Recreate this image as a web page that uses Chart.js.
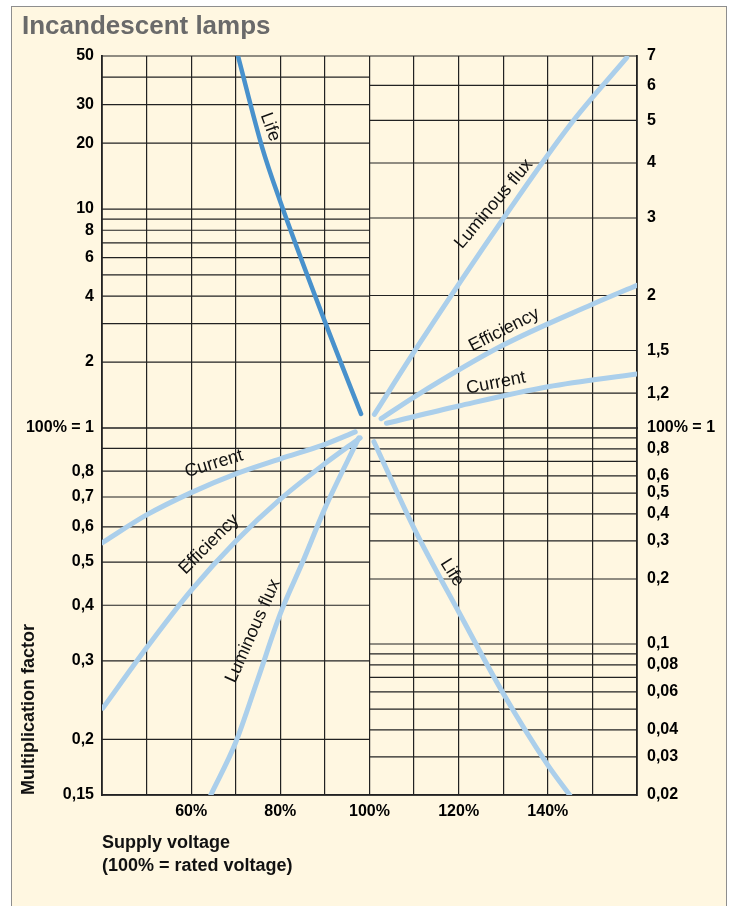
<!DOCTYPE html>
<html>
<head>
<meta charset="utf-8">
<title>Incandescent lamps</title>
<script src="https://cdn.jsdelivr.net/npm/chart.js@4.4.1/dist/chart.umd.min.js"></script>
<style>
  html, body { margin: 0; padding: 0; background: #fff; overflow: hidden; }
  .frame {
    position: absolute; left: 11px; top: 6px; width: 716px; height: 912px;
    box-sizing: border-box; background: #fff7e1; border: 1.5px solid #8e8e8e;
  }
  #chart { position: absolute; left: 0; top: 0; }
</style>
</head>
<body>
<div class="frame"></div>
<canvas id="chart" width="731" height="906"></canvas>
<script>
// supply voltage in % of rated voltage
const voltTicks = [40, 50, 60, 70, 80, 90, 100, 110, 120, 130, 140, 150, 160];
const voltLabels = [60, 80, 100, 120, 140];

// grid lines and labels of the four log axes
const leftUpperTicks = [1, 2, 3, 4, 5, 6, 7, 8, 9, 10, 20, 30, 40, 50];
const leftUpperLabels = [1, 2, 4, 6, 8, 10, 20, 30, 50];
const leftLowerTicks = [0.15, 0.2, 0.3, 0.4, 0.5, 0.6, 0.7, 0.8, 0.9, 1];
const leftLowerLabels = [0.15, 0.2, 0.3, 0.4, 0.5, 0.6, 0.7, 0.8];
const rightUpperTicks = [1, 1.2, 1.5, 2, 3, 4, 5, 6, 7];
const rightUpperLabels = [1, 1.2, 1.5, 2, 3, 4, 5, 6, 7];
const rightLowerTicks = [0.02, 0.03, 0.04, 0.05, 0.06, 0.07, 0.08, 0.09, 0.1,
  0.2, 0.3, 0.4, 0.5, 0.6, 0.7, 0.8, 0.9, 1];
const rightLowerLabels = [0.02, 0.03, 0.04, 0.06, 0.08, 0.1, 0.2, 0.3, 0.4, 0.5, 0.6, 0.8];

// below rated voltage
const lifeLowVolt = [70.5, 75.9, 80, 90, 98.1];
const lifeLow = [50, 19.2, 10.8, 3.06, 1.16];
const currentLowVolt = [40, 50, 60, 70, 80, 90, 96.8];
const currentLow = [0.552, 0.638, 0.716, 0.789, 0.853, 0.919, 0.98];
const efficiencyLowVolt = [40.2, 50, 60, 70, 80, 90, 97.9];
const efficiencyLow = [0.235, 0.321, 0.432, 0.557, 0.692, 0.832, 0.95];
const fluxLowVolt = [64.4, 70, 75, 80, 85, 90, 97.6];
const fluxLow = [0.15, 0.197, 0.274, 0.383, 0.5, 0.66, 0.95];

// above rated voltage
const fluxHighVolt = [101.1, 110.9, 130, 145.1, 157.7];
const fluxHigh = [1.074, 1.538, 2.99, 4.9, 6.94];
const efficiencyHighVolt = [102.6, 110, 130, 150, 160];
const efficiencyHigh = [1.05, 1.176, 1.543, 1.91, 2.11];
const currentHighVolt = [103.8, 120, 140, 160];
const currentHigh = [1.025, 1.122, 1.241, 1.327];
const lifeHighVolt = [101, 110, 120, 130, 140, 144.9];
const lifeHigh = [0.864, 0.343, 0.141, 0.059, 0.0275, 0.02];

// curve names, placed in data units of their axis
const curveNotes = [
  { text: 'Life', axis: 'yLU', volt: 77.7, factor: 23.7, angle: 70 },
  { text: 'Luminous flux', axis: 'yRU', volt: 127.9, factor: 3.23, angle: -50 },
  { text: 'Efficiency', axis: 'yRU', volt: 130.2, factor: 1.67, angle: -27 },
  { text: 'Current', axis: 'yRU', volt: 128.4, factor: 1.265, angle: -11 },
  { text: 'Current', axis: 'yLL', volt: 65.1, factor: 0.831, angle: -17 },
  { text: 'Efficiency', axis: 'yLL', volt: 64, factor: 0.548, angle: -45 },
  { text: 'Luminous flux', axis: 'yLL', volt: 73.9, factor: 0.35, angle: -66 },
  { text: 'Life', axis: 'yRL', volt: 118.5, factor: 0.214, angle: 58 }
];

const FONT = 'Arial, "Liberation Sans", Helvetica, sans-serif';
const gridColor = '#222';
const lightBlue = '#abcfeb';
const darkBlue = '#4891cc';

function fmt(v) {
  return v === 1 ? '100% = 1' : String(v).replace('.', ',');
}

function curve(volts, factors, axis, color, width) {
  return {
    data: volts.map((v, i) => ({ x: v, y: factors[i] })),
    yAxisID: axis,
    borderColor: color,
    borderWidth: width,
    borderCapStyle: 'round',
    pointRadius: 0,
    fill: false,
    cubicInterpolationMode: 'monotone'
  };
}

function logAxis(position, weight, min, max, grid, labels, showOne) {
  return {
    type: 'logarithmic',
    position: position,
    stack: position,
    stackWeight: weight,
    min: min,
    max: max,
    afterBuildTicks: s => { s.ticks = grid.map(v => ({ value: v })); },
    afterFit: s => { s.width = position === 'left' ? 80 : 94; },
    grid: { display: false, drawTicks: false },
    border: { display: true, color: gridColor, width: 1.8 },
    ticks: {
      autoSkip: false,
      padding: position === 'left' ? 8 : 10,
      color: '#000',
      font: { family: FONT, size: 16, weight: 'bold' },
      callback: v => {
        if (v === 1 && !showOne) return '';
        return labels.includes(v) ? fmt(v) : '';
      }
    }
  };
}

// horizontal lines only over their own half of the chart
const halfGrid = {
  id: 'halfGrid',
  beforeDatasetsDraw(chart) {
    const { ctx, chartArea, scales } = chart;
    const mid = scales.x.getPixelForValue(100);
    ctx.save();
    ctx.strokeStyle = gridColor;
    ctx.lineWidth = 1.2;
    ['yLU', 'yLL', 'yRU', 'yRL'].forEach(id => {
      const s = scales[id];
      const left = s.options.position === 'left';
      const x0 = left ? chartArea.left : mid;
      const x1 = left ? mid : chartArea.right;
      s.ticks.forEach(t => {
        const y = s.getPixelForValue(t.value);
        ctx.beginPath();
        ctx.moveTo(x0, y);
        ctx.lineTo(x1, y);
        ctx.stroke();
      });
    });
    ctx.restore();
  }
};

const curveLabels = {
  id: 'curveLabels',
  afterDatasetsDraw(chart) {
    const { ctx, scales } = chart;
    ctx.save();
    ctx.fillStyle = '#111';
    ctx.font = '18px ' + FONT;
    ctx.textAlign = 'center';
    ctx.textBaseline = 'middle';
    curveNotes.forEach(n => {
      const x = scales.x.getPixelForValue(n.volt);
      const y = scales[n.axis].getPixelForValue(n.factor);
      ctx.save();
      ctx.translate(x, y);
      ctx.rotate(n.angle * Math.PI / 180);
      ctx.fillText(n.text, 0, 0);
      ctx.restore();
    });
    ctx.restore();
  }
};

const yLL = logAxis('left', 367, 0.15, 1, leftLowerTicks, leftLowerLabels, false);
yLL.title = {
  display: true,
  text: 'Multiplication factor',
  align: 'start',
  color: '#111',
  font: { family: FONT, size: 18, weight: 'bold', lineHeight: 1 },
  padding: { top: -2, bottom: 0 }
};

new Chart(document.getElementById('chart'), {
  type: 'line',
  data: {
    datasets: [
      curve(lifeLowVolt, lifeLow, 'yLU', darkBlue, 4.5),
      curve(currentLowVolt, currentLow, 'yLL', lightBlue, 5),
      curve(efficiencyLowVolt, efficiencyLow, 'yLL', lightBlue, 5),
      curve(fluxLowVolt, fluxLow, 'yLL', lightBlue, 5),
      curve(fluxHighVolt, fluxHigh, 'yRU', lightBlue, 5),
      curve(efficiencyHighVolt, efficiencyHigh, 'yRU', lightBlue, 5),
      curve(currentHighVolt, currentHigh, 'yRU', lightBlue, 5),
      curve(lifeHighVolt, lifeHigh, 'yRL', lightBlue, 5)
    ]
  },
  options: {
    responsive: false,
    animation: false,
    layout: { padding: { left: 22, top: 0, right: 0, bottom: 0 } },
    plugins: {
      legend: { display: false },
      tooltip: { enabled: false },
      title: {
        display: true,
        text: 'Incandescent lamps',
        align: 'start',
        color: '#6a6a6a',
        font: { family: FONT, size: 26, weight: 'bold', lineHeight: 1.2 },
        padding: { top: 11, bottom: 13.8 }
      }
    },
    scales: {
      x: {
        type: 'linear',
        min: 40,
        max: 160,
        afterBuildTicks: s => { s.ticks = voltTicks.map(v => ({ value: v })); },
        afterFit: s => { s.height = 111; },
        grid: { color: gridColor, lineWidth: 1.2, drawTicks: false },
        border: { display: true, color: gridColor, width: 1.8 },
        ticks: {
          autoSkip: false,
          maxRotation: 0,
          padding: 7,
          color: '#000',
          font: { family: FONT, size: 16, weight: 'bold' },
          callback: v => voltLabels.includes(v) ? v + '%' : ''
        },
        title: {
          display: true,
          text: ['Supply voltage', '(100% = rated voltage)'],
          align: 'start',
          color: '#111',
          font: { family: FONT, size: 18, weight: 'bold', lineHeight: 23 / 18 },
          padding: { top: 0, bottom: 28.5 }
        }
      },
      yLL: yLL,
      yLU: logAxis('left', 372, 1, 50, leftUpperTicks, leftUpperLabels, true),
      yRU: logAxis('right', 372, 1, 7, rightUpperTicks, rightUpperLabels, true),
      yRL: logAxis('right', 367, 0.02, 1, rightLowerTicks, rightLowerLabels, false)
    }
  },
  plugins: [halfGrid, curveLabels]
});
</script>
</body>
</html>
